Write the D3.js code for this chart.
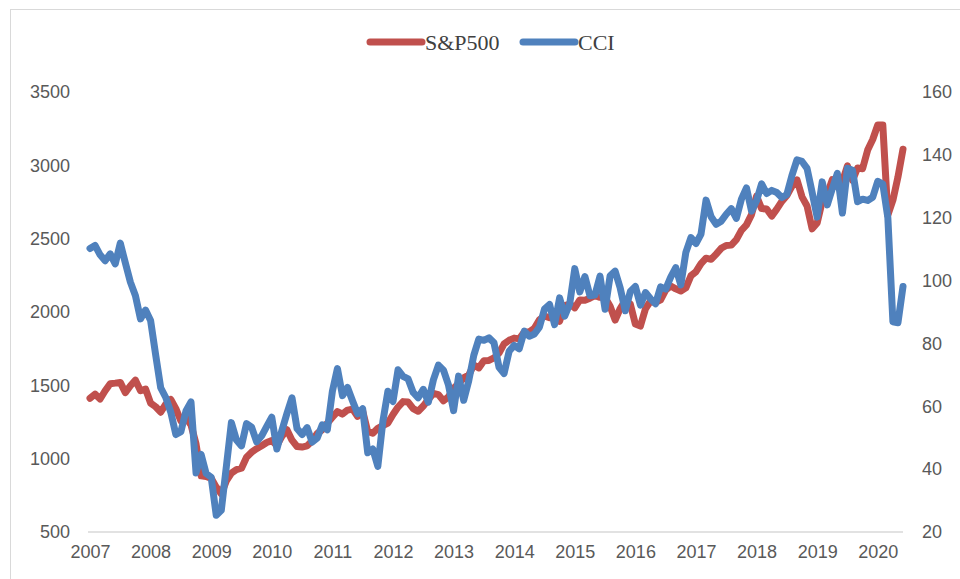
<!DOCTYPE html>
<html>
<head>
<meta charset="utf-8">
<script src="https://cdn.jsdelivr.net/npm/d3@7"></script>
<style>
  body { margin: 0; background: #fff; }
</style>
</head>
<body>
<svg id="chart"></svg>
<script>
// monthly points, Jan 2007 .. Jun 2020
const years = [2007, 2008, 2009, 2010, 2011, 2012, 2013, 2014, 2015, 2016, 2017, 2018, 2019, 2020];

const sp500 = [
  1412, 1440, 1407, 1463, 1511, 1515, 1520, 1450, 1497, 1535, 1463, 1475,
  1379, 1354, 1317, 1371, 1403, 1341, 1257, 1281, 1230, 1100, 883, 878,
  866, 806, 760, 848, 902, 926, 935, 1010, 1044, 1068, 1088, 1110,
  1123, 1089, 1152, 1197, 1126, 1083, 1079, 1087, 1122, 1171, 1198, 1242,
  1282, 1321, 1304, 1331, 1338, 1288, 1325, 1185, 1173, 1207, 1226, 1243,
  1301, 1352, 1389, 1386, 1341, 1323, 1359, 1404, 1444, 1437, 1394, 1422,
  1480, 1512, 1551, 1570, 1639, 1619, 1668, 1670, 1687, 1720, 1783, 1807,
  1822, 1817, 1863, 1864, 1889, 1947, 1973, 1961, 1993, 1937, 2044, 2054,
  2028, 2082, 2080, 2094, 2111, 2100, 2099, 2039, 1945, 2024, 2080, 2054,
  1918, 1904, 2022, 2075, 2066, 2083, 2149, 2177, 2158, 2143, 2165, 2247,
  2275, 2330, 2367, 2359, 2395, 2434, 2454, 2456, 2493, 2557, 2594, 2664,
  2790, 2705, 2702, 2654, 2701, 2754, 2794, 2857, 2901, 2785, 2723, 2567,
  2607, 2754, 2804, 2903, 2854, 2890, 2996, 2897, 2982, 2977, 3104, 3176,
  3275, 3275, 2660, 2762, 2920, 3110
];

const cci = [
  110.2, 111.2, 108.2, 106.3, 108.5, 105.3, 111.9, 105.6, 99.5, 95.2, 87.8, 90.6,
  87.3, 76.4, 65.9, 62.8, 58.1, 51.0, 51.9, 58.5, 61.4, 38.8, 44.7, 38.6,
  37.4, 25.3, 26.9, 40.8, 54.8, 49.3, 47.4, 54.5, 53.4, 48.7, 50.6, 53.6,
  56.5, 46.4, 52.3, 57.7, 62.7, 52.9, 51.0, 53.2, 48.6, 49.9, 54.1, 52.5,
  64.8, 72.0, 63.4, 66.0, 61.7, 57.6, 59.2, 45.2, 46.4, 40.9, 55.2, 64.8,
  61.5, 71.6, 69.5, 68.7, 64.4, 62.7, 65.4, 61.3, 68.4, 73.1, 71.5, 66.7,
  58.6, 69.6, 61.9, 68.1, 76.2, 81.4, 81.0, 81.8, 80.2, 72.4, 70.4, 77.5,
  79.4, 78.3, 83.9, 82.3, 83.0, 85.2, 90.9, 92.4, 86.0, 94.5, 88.7, 92.6,
  103.8, 96.4, 101.3, 95.2, 95.4, 101.4, 90.9, 101.5, 103.0, 97.6, 90.4, 96.5,
  98.1, 92.2, 96.2, 94.2, 92.6, 98.0, 97.3, 101.1, 104.1, 98.6, 109.0, 113.7,
  111.8, 114.8, 125.6, 120.3, 117.9, 118.9, 121.1, 122.9, 119.8, 125.9, 129.5, 122.1,
  125.4, 130.8, 127.7, 128.7, 128.0, 126.4, 127.4, 133.4, 138.4, 137.9, 135.7, 128.1,
  120.2, 131.4, 124.1, 129.2, 134.1, 121.5, 135.7, 135.1, 125.1, 125.9, 125.5, 126.5,
  131.6, 130.7, 120.0, 86.9, 86.6, 98.1
];

const leftTicks = [500, 1000, 1500, 2000, 2500, 3000, 3500];
const rightTicks = [20, 40, 60, 80, 100, 120, 140, 160];

const svgWidth = 960, svgHeight = 579;
const red = "#c0504d", blue = "#4f81bd";

const svg = d3.select("#chart")
  .attr("width", svgWidth)
  .attr("height", svgHeight)
  .style("font-family", "'Liberation Sans', Arial, sans-serif");

// chart frame (only top and left edges fall inside the picture)
svg.append("rect")
  .attr("x", 10.5).attr("y", 9.5)
  .attr("width", 980).attr("height", 620)
  .attr("fill", "#fff")
  .attr("stroke", "#d9d9d9");

const x = d3.scaleLinear().domain([0, sp500.length - 1]).range([90, 903]);
const yL = d3.scaleLinear().domain([500, 3500]).range([532, 92]);
const yR = d3.scaleLinear().domain([20, 160]).range([532, 92]);

// left axis
const gl = svg.append("g")
  .attr("transform", "translate(70,0)")
  .call(d3.axisLeft(yL).tickValues(leftTicks).tickFormat(d3.format("d"))
    .tickSize(0).tickPadding(0));
gl.select(".domain").remove();

// right axis
const gr = svg.append("g")
  .attr("transform", "translate(922,0)")
  .call(d3.axisRight(yR).tickValues(rightTicks).tickFormat(d3.format("d"))
    .tickSize(0).tickPadding(0));
gr.select(".domain").remove();

// bottom axis, one label per January
const gb = svg.append("g")
  .attr("transform", "translate(0," + yL(500) + ")")
  .call(d3.axisBottom(x)
    .tickValues(years.map((yr, i) => i * 12))
    .tickFormat(v => years[v / 12])
    .tickSize(0).tickPadding(13));
gb.select(".domain").remove();

svg.selectAll(".tick text")
  .attr("fill", "#595959")
  .attr("font-size", 18)
  .attr("font-family", "'Liberation Sans', Arial, sans-serif");

// baseline
svg.append("line")
  .attr("x1", x(0) - 2).attr("x2", x(sp500.length - 1))
  .attr("y1", yL(500)).attr("y2", yL(500))
  .attr("stroke", "#d9d9d9")
  .attr("stroke-width", 1.5);

const lineL = d3.line().x((d, i) => x(i)).y(d => yL(d));
const lineR = d3.line().x((d, i) => x(i)).y(d => yR(d));

svg.append("path")
  .datum(sp500)
  .attr("fill", "none")
  .attr("stroke", red)
  .attr("stroke-width", 7)
  .attr("stroke-linejoin", "round")
  .attr("stroke-linecap", "round")
  .attr("d", lineL);

svg.append("path")
  .datum(cci)
  .attr("fill", "none")
  .attr("stroke", blue)
  .attr("stroke-width", 7)
  .attr("stroke-linejoin", "round")
  .attr("stroke-linecap", "round")
  .attr("d", lineR);

// legend
const legend = [
  { name: "S&P500", color: red, x: 370 },
  { name: "CCI", color: blue, x: 523 }
];
const lg = svg.append("g");
legend.forEach(item => {
  lg.append("line")
    .attr("x1", item.x).attr("x2", item.x + 52)
    .attr("y1", 42).attr("y2", 42)
    .attr("stroke", item.color)
    .attr("stroke-width", 7)
    .attr("stroke-linecap", "round");
  lg.append("text")
    .attr("x", item.x + 55)
    .attr("y", 42)
    .attr("dy", "0.35em")
    .attr("fill", "#404040")
    .attr("font-size", 22)
    .attr("font-family", "'Liberation Serif', 'Times New Roman', serif")
    .text(item.name);
});
</script>
</body>
</html>
